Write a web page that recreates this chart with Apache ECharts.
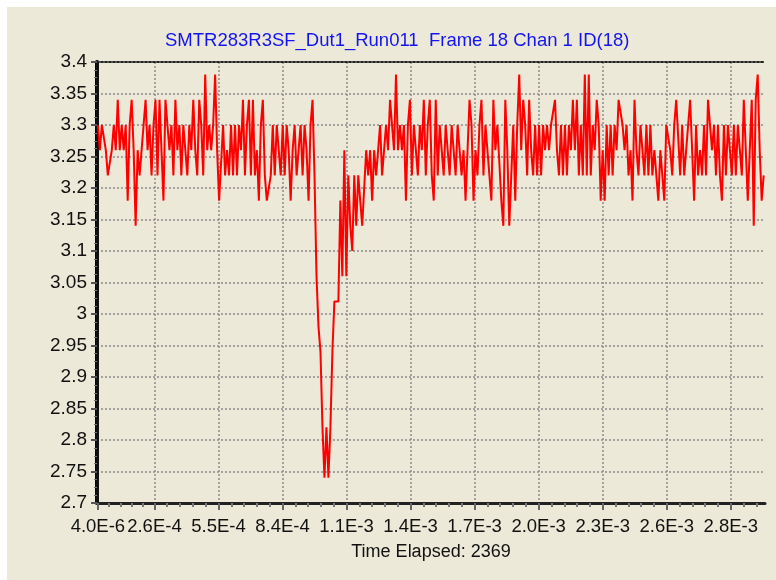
<!DOCTYPE html>
<html>
<head>
<meta charset="utf-8">
<script src="https://cdn.jsdelivr.net/npm/echarts@6/dist/echarts.min.js"></script>
<style>
html,body{margin:0;padding:0;background:#fff;}
#chart{position:absolute;left:7px;top:7px;width:769px;height:573px;background:#ece9d8;}
</style>
</head>
<body>
<div id="chart"></div>
<script>
// sampled voltage, split in five time ranges (left to right)
let volts1 = [3.30,3.26,3.30,3.30,3.26,3.22,3.22,3.26,3.30,3.26,
  3.34,3.26,3.30,3.26,3.30,3.18,3.30,3.34,3.26,3.14,
  3.26,3.22,3.26,3.30,3.34,3.26,3.30,3.22,3.30,3.34,
  3.22,3.34,3.26,3.18,3.34,3.30,3.26,3.30,3.22,3.34,
  3.26,3.30,3.22,3.30,3.26,3.22,3.30,3.26,3.34,3.26,
  3.22,3.34,3.30,3.22,3.38,3.26,3.30,3.26,3.30,3.38,
  3.26,3.18,3.18,3.30,3.22,3.26,3.22];
let volts2 = [3.30,3.22,3.30,3.22,3.30,3.26,3.34,3.22,3.30,3.34,
  3.22,3.34,3.22,3.26,3.18,3.30,3.34,3.22,3.18,3.18,
  3.22,3.30,3.22,3.30,3.26,3.22,3.30,3.22,3.30,3.26,
  3.18,3.26,3.30,3.22,3.26,3.30,3.22,3.30,3.26,3.18,
  3.30,3.34,3.22,3.06,2.98,2.94,2.82,2.74,2.82,2.74,
  2.82,2.94,3.02,3.02,3.02,3.18,3.06,3.26,3.06,3.22,
  3.14,3.10,3.22,3.14,3.22,3.18,3.14];
let volts3 = [3.14,3.26,3.22,3.26,3.18,3.26,3.22,3.26,3.30,3.22,
  3.26,3.30,3.26,3.34,3.30,3.26,3.38,3.26,3.30,3.26,
  3.30,3.18,3.30,3.34,3.22,3.30,3.26,3.22,3.30,3.26,
  3.34,3.22,3.30,3.34,3.22,3.18,3.34,3.22,3.30,3.26,
  3.22,3.30,3.26,3.22,3.30,3.26,3.22,3.30,3.26,3.22,
  3.26,3.18,3.26,3.34,3.30,3.18,3.26,3.22,3.30,3.34,
  3.22,3.30,3.26,3.22,3.18,3.34,3.26,3.30];
let volts4 = [3.30,3.18,3.14,3.34,3.26,3.14,3.22,3.30,3.18,3.30,
  3.38,3.26,3.34,3.30,3.22,3.34,3.26,3.22,3.30,3.22,
  3.30,3.22,3.30,3.26,3.30,3.26,3.30,3.30,3.34,3.26,
  3.22,3.30,3.22,3.30,3.22,3.30,3.26,3.34,3.26,3.34,
  3.22,3.30,3.22,3.38,3.22,3.38,3.22,3.30,3.26,3.34,
  3.30,3.18,3.26,3.18,3.30,3.22,3.30,3.22,3.30,3.26,
  3.34,3.34,3.30,3.26,3.30,3.22,3.26];
let volts5 = [3.18,3.34,3.26,3.22,3.30,3.26,3.22,3.30,3.22,3.30,
  3.22,3.26,3.22,3.18,3.26,3.22,3.18,3.30,3.30,3.26,
  3.22,3.30,3.34,3.34,3.22,3.30,3.22,3.26,3.30,3.34,
  3.26,3.18,3.30,3.22,3.26,3.22,3.30,3.22,3.34,3.30,
  3.26,3.30,3.22,3.30,3.22,3.18,3.30,3.22,3.30,3.26,
  3.22,3.30,3.22,3.30,3.26,3.22,3.34,3.26,3.18,3.26,
  3.34,3.14,3.34,3.38,3.26,3.18,3.22];

let sampleStart = 4.0e-6;
let sampleStep = 9e-6;
let xMax = 3.025e-3;

let xTickValues = [4.0e-6, 2.6e-4, 5.5e-4, 8.4e-4, 1.13e-3, 1.42e-3, 1.71e-3, 2.0e-3, 2.29e-3, 2.58e-3, 2.87e-3];
let xTickLabels = ['4.0E-6','2.6E-4','5.5E-4','8.4E-4','1.1E-3','1.4E-3','1.7E-3','2.0E-3','2.3E-3','2.6E-3','2.8E-3'];

let volts = volts1.concat(volts2, volts3, volts4, volts5);
let points = volts.map(function(v, i){ return [sampleStart + i * sampleStep, v]; });

// small ticks, 5 steps between the labelled ones
let xMinor = [];
for (let k = 0; k < xTickValues.length - 1; k++) {
  let a = xTickValues[k], b = xTickValues[k + 1];
  for (let j = 1; j < 5; j++) xMinor.push(a + (b - a) * j / 5);
}
let lastStep = (xTickValues[10] - xTickValues[9]) / 5;
for (let t = xTickValues[10] + lastStep; t < xMax; t += lastStep) xMinor.push(t);

let gridDots = {color:'#8c8c8c', type:[2,2], width:1.5};

let chart = echarts.init(document.getElementById('chart'));
chart.setOption({
  animation: false,
  textStyle: {fontFamily: 'Liberation Sans, Arial, sans-serif'},
  title: {
    text: 'SMTR283R3SF_Dut1_Run011  Frame 18 Chan 1 ID(18)',
    left: 153, top: 19,
    textStyle: {color:'#1414f0', fontSize:18.5, fontWeight:'normal'}
  },
  grid: {left:90, right:11, top:55, bottom:77},
  xAxis: [{
    type:'value', min:0, max:xMax,
    name:'Time Elapsed: 2369', nameLocation:'middle', nameGap:40,
    nameTextStyle:{color:'#111', fontSize:18},
    axisLine:{lineStyle:{color:'#222', width:3}},
    axisTick:{customValues:xTickValues, length:7, lineStyle:{color:'#666', width:2}},
    axisLabel:{
      customValues:xTickValues, margin:14, color:'#111', fontSize:18.5,
      formatter:function(v){
        for (let k = 0; k < xTickValues.length; k++) {
          if (Math.abs(xTickValues[k] - v) < 1e-9) return xTickLabels[k];
        }
        return '';
      }
    },
    splitLine:{show:true, lineStyle:gridDots}
  }, {
    type:'value', min:0, max:xMax, position:'bottom',
    axisLine:{show:false},
    axisTick:{customValues:xMinor, length:4, lineStyle:{color:'#777', width:2}},
    axisLabel:{show:false},
    splitLine:{show:false}
  }, {
    type:'value', min:0, max:xMax, position:'top',
    axisLine:{show:true, lineStyle:{color:'#222', width:2, type:[2,2]}},
    axisTick:{show:false}, axisLabel:{show:false}, splitLine:{show:false}
  }],
  yAxis: [{
    type:'value', min:2.7, max:3.4, interval:0.05,
    axisLine:{show:true, lineStyle:{color:'#000', width:4}},
    axisTick:{show:true, length:6, lineStyle:{color:'#555', width:2}},
    minorTick:{show:true, splitNumber:4, length:3, lineStyle:{color:'#777'}},
    axisLabel:{margin:10, color:'#111', fontSize:19},
    splitLine:{show:true, lineStyle:gridDots}
  }, {
    type:'value', min:2.7, max:3.4, position:'right',
    axisLine:{show:true, lineStyle:{color:'#111', width:3}},
    axisTick:{show:false}, axisLabel:{show:false}, splitLine:{show:false}
  }],
  series: [{
    type:'line',
    xAxisIndex:0, yAxisIndex:0,
    data:points,
    showSymbol:false,
    lineStyle:{color:'#ff0000', width:2}
  }]
});
</script>
</body>
</html>
